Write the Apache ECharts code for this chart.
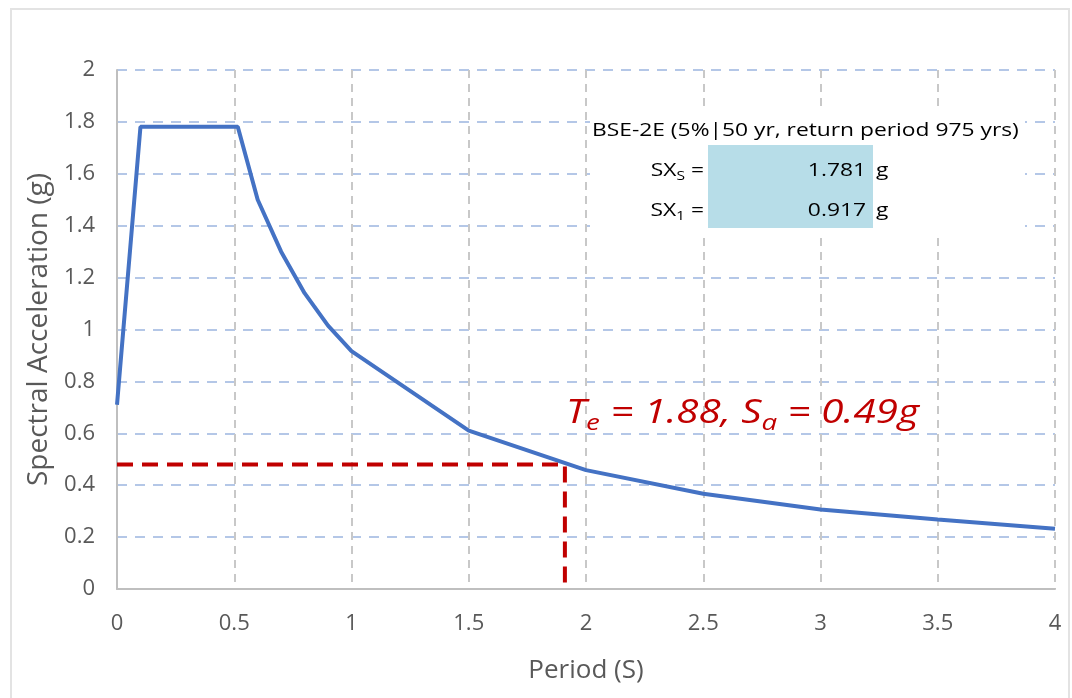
<!DOCTYPE html>
<html><head><meta charset="utf-8">
<style>html,body{margin:0;padding:0;background:#fff}#c{width:1072px;height:698px}
#frame{position:absolute;left:10px;top:8px;width:1060px;height:700px;border:2px solid #e3e3e3;box-sizing:border-box;pointer-events:none}</style>
<script src="https://cdn.jsdelivr.net/npm/echarts@6/dist/echarts.min.js"></script>
</head><body>
<div id="c"></div><div id="frame"></div>
<script>
// Data
const periods = [0, 0.1, 0.515, 0.6, 0.7, 0.8, 0.9, 1.0, 1.5, 2.0, 2.5, 3.0, 3.5, 4.0];
const accel   = [0.71, 1.781, 1.781, 1.50, 1.30, 1.14, 1.015, 0.917, 0.61, 0.458, 0.367, 0.306, 0.268, 0.232];
const teLineX = [0, 1.91, 1.91];
const teLineY = [0.48, 0.48, 0];
const xTicks = [0, 0.5, 1, 1.5, 2, 2.5, 3, 3.5, 4];
const yTicks = [0, 0.2, 0.4, 0.6, 0.8, 1, 1.2, 1.4, 1.6, 1.8, 2];
const tableTitle = 'BSE-2E (5%|50 yr, return period 975 yrs)';
const sxsValue = '1.781';
const sx1Value = '0.917';

const FONT = '"Open Sans", "Noto Sans", sans-serif';
const TF = '19px ' + FONT;
const SX = 1.2;
const chart = echarts.init(document.getElementById('c'));
chart.setOption({
  animation: false,
  grid: {left: 117, right: 17, top: 70, bottom: 109},
  xAxis: {
    type: 'value', min: 0, max: 4, interval: 0.5,
    name: 'Period (S)', nameLocation: 'middle', nameGap: 69,
    nameTextStyle: {fontSize: 26, color: '#595959', fontFamily: FONT},
    axisLine: {show: true, onZero: false, lineStyle: {color: '#bfbfbf', width: 2}},
    axisTick: {show: false},
    axisLabel: {fontSize: 22, color: '#595959', fontFamily: FONT, margin: 24,
      formatter: v => xTicks.includes(v) ? String(v) : ''},
    splitLine: {show: true, lineStyle: {color: '#c8c8c8', type: [8, 6], width: 2}}
  },
  yAxis: {
    type: 'value', min: 0, max: 2, interval: 0.2,
    name: 'Spectral Acceleration (g)', nameLocation: 'middle', nameGap: 62,
    nameTextStyle: {fontSize: 28, color: '#595959', fontFamily: FONT},
    axisLine: {show: true, lineStyle: {color: '#bfbfbf', width: 2}},
    axisTick: {show: false},
    axisLabel: {fontSize: 22, color: '#595959', fontFamily: FONT, margin: 22,
      formatter: v => { const t = yTicks.find(k => Math.abs(k - v) < 1e-9); return t === undefined ? '' : String(t); }},
    splitLine: {show: true, lineStyle: {color: '#b4c7e7', type: [10, 8], width: 2}}
  },
  series: [
    {type: 'line', data: periods.map((p, i) => [p, accel[i]]), showSymbol: false,
      lineStyle: {color: '#4472c4', width: 4}, z: 3},
    {type: 'line', data: teLineX.map((p, i) => [p, teLineY[i]]), showSymbol: false,
      lineStyle: {color: '#c00000', width: 4, type: [16, 9]}, z: 4}
  ],
  graphic: [
    {type: 'rect', z: 1, shape: {x: 590, y: 112, width: 435, height: 121}, style: {fill: '#ffffff'}},
    {type: 'rect', z: 2, shape: {x: 708, y: 145, width: 165, height: 83}, style: {fill: '#b7dde8'}},
    {type: 'text', z: 5, x: 592, y: 131, scaleX: SX,
      style: {x: 0, y: 0, text: tableTitle, font: TF, fill: '#000', textVerticalAlign: 'middle'}},
    {type: 'text', z: 5, x: 704, y: 171, scaleX: SX, style: {x: 0, y: 0, text: '{b|SX}{s|S}{b| =}', textAlign: 'right', textVerticalAlign: 'middle',
      rich: {b: {font: TF, fill: '#000'}, s: {font: '13px ' + FONT, fill: '#000', padding: [10, 0, 0, 0]}}}},
    {type: 'text', z: 5, x: 704, y: 211, scaleX: SX, style: {x: 0, y: 0, text: '{b|SX}{s|1}{b| =}', textAlign: 'right', textVerticalAlign: 'middle',
      rich: {b: {font: TF, fill: '#000'}, s: {font: '13px ' + FONT, fill: '#000', padding: [10, 0, 0, 0]}}}},
    {type: 'text', z: 5, x: 866, y: 171, scaleX: SX, style: {x: 0, y: 0, text: sxsValue, textAlign: 'right', textVerticalAlign: 'middle', font: TF, fill: '#000'}},
    {type: 'text', z: 5, x: 866, y: 211, scaleX: SX, style: {x: 0, y: 0, text: sx1Value, textAlign: 'right', textVerticalAlign: 'middle', font: TF, fill: '#000'}},
    {type: 'text', z: 5, x: 876, y: 171, scaleX: SX, style: {x: 0, y: 0, text: 'g', textVerticalAlign: 'middle', font: TF, fill: '#000'}},
    {type: 'text', z: 5, x: 876, y: 211, scaleX: SX, style: {x: 0, y: 0, text: 'g', textVerticalAlign: 'middle', font: TF, fill: '#000'}},
    {type: 'text', z: 5, x: 566, y: 414, scaleX: 1.26, style: {x: 0, y: 0, textVerticalAlign: 'middle',
      text: '{m|T}{s|e}{m| = 1.88, S}{s|a}{m| = 0.49g}',
      rich: {m: {font: 'italic 32px ' + FONT, fill: '#c00000'}, s: {font: 'italic 22px ' + FONT, fill: '#c00000', padding: [20, 0, 0, 0]}}}}
  ]
});
</script></body></html>
